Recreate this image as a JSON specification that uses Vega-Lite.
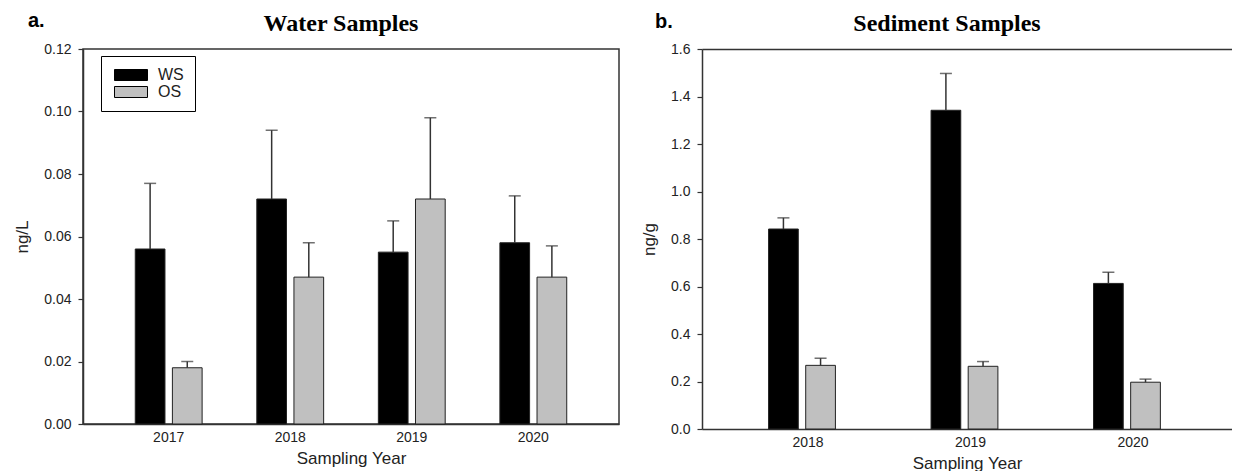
{
  "$schema": "https://vega.github.io/schema/vega-lite/v6.json",
  "padding": {"left": 13, "top": 11, "right": 0, "bottom": 0},
  "background": "white",
  "config": {
    "font": "Liberation Sans",
    "view": {"stroke": "#333", "strokeWidth": 1.5},
    "axis": {
      "labelFont": "Liberation Sans", "labelFontSize": 14, "labelColor": "#222",
      "titleFont": "Liberation Sans", "titleFontSize": 17, "titleFontWeight": "normal", "titleColor": "#222",
      "domainColor": "#333", "domainWidth": 1.5, "tickColor": "#333", "tickSize": 5, "tickWidth": 1.2,
      "grid": false, "labelPadding": 7, "titlePadding": 12
    },
    "axisX": {"ticks": false, "labelAngle": 0, "labelPadding": 6, "titlePadding": 6},
    "title": {"font": "Liberation Serif", "fontSize": 24, "fontWeight": "bold", "color": "#000"}
  },
  "datasets": {
    "water": [
      {"year": "2017", "group": "WS", "value": 0.056, "upper": 0.077},
      {"year": "2017", "group": "OS", "value": 0.018, "upper": 0.020},
      {"year": "2018", "group": "WS", "value": 0.072, "upper": 0.094},
      {"year": "2018", "group": "OS", "value": 0.047, "upper": 0.058},
      {"year": "2019", "group": "WS", "value": 0.055, "upper": 0.065},
      {"year": "2019", "group": "OS", "value": 0.072, "upper": 0.098},
      {"year": "2020", "group": "WS", "value": 0.058, "upper": 0.073},
      {"year": "2020", "group": "OS", "value": 0.047, "upper": 0.057}
    ],
    "sediment": [
      {"year": "2018", "group": "WS", "value": 0.842, "upper": 0.889},
      {"year": "2018", "group": "OS", "value": 0.268, "upper": 0.298},
      {"year": "2019", "group": "WS", "value": 1.342, "upper": 1.497},
      {"year": "2019", "group": "OS", "value": 0.264, "upper": 0.284},
      {"year": "2020", "group": "WS", "value": 0.613, "upper": 0.660},
      {"year": "2020", "group": "OS", "value": 0.197, "upper": 0.210}
    ]
  },
  "resolve": {"scale": {"color": "independent"}, "legend": {"color": "independent"}},
  "spacing": 20,
  "hconcat": [
    {
      "title": {"text": "a.", "anchor": "start", "frame": "group", "font": "Liberation Sans", "fontSize": 20, "fontWeight": "bold", "dy": 24, "dx": -55},
      "resolve": {"scale": {"color": "independent"}, "legend": {"color": "independent"}},
      "vconcat": [
        {
          "title": {"text": "Water Samples", "anchor": "middle", "dx": -10, "offset": 6},
          "width": 536,
          "height": 375,
          "data": {"name": "water"},
          "layer": [
            {
              "mark": {"type": "bar", "stroke": "#222", "strokeWidth": 1},
              "encoding": {
                "x": {"field": "year", "type": "nominal", "title": "Sampling Year",
                      "scale": {"paddingInner": 0.45, "paddingOuter": 0.43}},
                "xOffset": {"field": "group", "type": "nominal", "sort": ["WS", "OS"],
                            "scale": {"paddingInner": 0.2, "paddingOuter": 0}},
                "y": {"field": "value", "type": "quantitative", "title": "ng/L",
                      "scale": {"domain": [0, 0.12], "nice": false},
                      "axis": {"format": ".2f", "values": [0, 0.02, 0.04, 0.06, 0.08, 0.10, 0.12]}},
                "color": {"field": "group", "type": "nominal",
                          "scale": {"domain": ["WS", "OS"], "range": ["#000000", "#c0c0c0"]},
                          "legend": {"title": null, "orient": "none", "legendX": 18, "legendY": 7,
                                     "strokeColor": "#000", "fillColor": "white",
                                     "padding": 11, "symbolType": "M-1,-1L5,-1L5,1L-1,1Z", "symbolSize": 121,
                                     "symbolStrokeColor": "#000", "symbolStrokeWidth": 1,
                                     "labelFont": "Liberation Sans", "labelFontSize": 16, "labelColor": "#222",
                                     "labelOffset": 30, "rowPadding": 1}}
              }
            },
            {
              "mark": {"type": "rule", "color": "#333", "strokeWidth": 1.5},
              "encoding": {
                "x": {"field": "year", "type": "nominal"},
                "xOffset": {"field": "group", "type": "nominal", "sort": ["WS", "OS"]},
                "y": {"field": "value", "type": "quantitative"},
                "y2": {"field": "upper"}
              }
            },
            {
              "mark": {"type": "tick", "color": "#333", "thickness": 1.5, "size": 12},
              "encoding": {
                "x": {"field": "year", "type": "nominal"},
                "xOffset": {"field": "group", "type": "nominal", "sort": ["WS", "OS"]},
                "y": {"field": "upper", "type": "quantitative"}
              }
            }
          ]
        }
      ]
    },
    {
      "title": {"text": "b.", "anchor": "start", "frame": "group", "font": "Liberation Sans", "fontSize": 20, "fontWeight": "bold", "dy": 24, "dx": -47},
      "resolve": {"scale": {"color": "independent"}, "legend": {"color": "independent"}},
      "vconcat": [
        {
          "title": {"text": "Sediment Samples", "anchor": "middle", "dx": -20, "offset": 6},
          "width": 530,
          "height": 380,
          "view": {"stroke": null},
          "data": {"name": "sediment"},
          "resolve": {"axis": {"x": "independent"}},
          "layer": [
            {
              "mark": {"type": "bar", "stroke": "#222", "strokeWidth": 1},
              "encoding": {
                "x": {"field": "year", "type": "nominal", "title": "Sampling Year",
                      "scale": {"paddingInner": 0.514, "paddingOuter": 0.388, "align": 0.528}},
                "xOffset": {"field": "group", "type": "nominal", "sort": ["WS", "OS"],
                            "scale": {"paddingInner": 0.388, "paddingOuter": 0}},
                "y": {"field": "value", "type": "quantitative", "title": "ng/g",
                      "scale": {"domain": [0, 1.6], "nice": false},
                      "axis": {"format": ".1f", "values": [0, 0.2, 0.4, 0.6, 0.8, 1.0, 1.2, 1.4, 1.6]}},
                "color": {"field": "group", "type": "nominal",
                          "scale": {"domain": ["WS", "OS"], "range": ["#000000", "#c0c0c0"]},
                          "legend": null}
              }
            },
            {
              "mark": {"type": "rule", "color": "#333", "strokeWidth": 1.5},
              "encoding": {
                "x": {"field": "year", "type": "nominal", "axis": null},
                "xOffset": {"field": "group", "type": "nominal", "sort": ["WS", "OS"]},
                "y": {"field": "value", "type": "quantitative"},
                "y2": {"field": "upper"}
              }
            },
            {
              "mark": {"type": "tick", "color": "#333", "thickness": 1.5, "size": 12},
              "encoding": {
                "x": {"field": "year", "type": "nominal",
                      "axis": {"orient": "top", "labels": false, "ticks": false, "title": null, "domain": true}},
                "xOffset": {"field": "group", "type": "nominal", "sort": ["WS", "OS"]},
                "y": {"field": "upper", "type": "quantitative"}
              }
            }
          ]
        }
      ]
    }
  ]
}
